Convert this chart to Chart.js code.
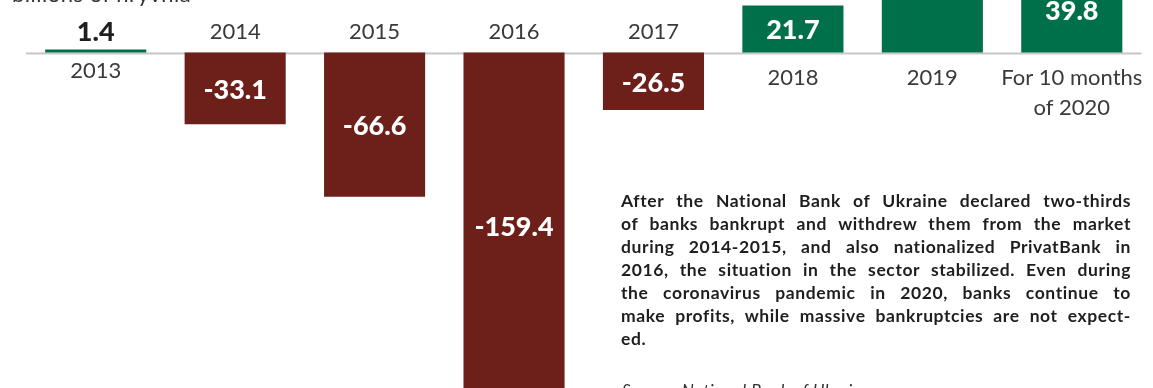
<!DOCTYPE html>
<html>
<head>
<meta charset="utf-8">
<script src="https://cdn.jsdelivr.net/npm/chart.js@4.4.1/dist/chart.umd.min.js"></script>
<style>
  html, body { margin: 0; padding: 0; background: #ffffff; }
  #wrap { position: relative; width: 1153px; height: 388px; overflow: hidden; background: #fff; }
  #c { position: absolute; left: 0; top: 0; }
  #title { position: absolute; left: 12px; top: -17px; font: 400 22px Lato, sans-serif; line-height: 22px; color: #333; white-space: nowrap; letter-spacing: 0.5px; }
  #note { position: absolute; left: 621px; top: 189px; width: 510px; font: 700 17.5px Lato, sans-serif; line-height: 23px; color: #1e1e1e; letter-spacing: 0.6px; }
  #note div { text-align: justify; text-align-last: justify; white-space: nowrap; }
  #note div.last { text-align-last: left; }
  #source { position: absolute; left: 622px; top: 379px; font: italic 400 17px Lato, sans-serif; line-height: 23px; color: #333; white-space: nowrap; letter-spacing: 0.5px; }
</style>
</head>
<body>
<div id="wrap">
  <canvas id="c" width="1153" height="388"></canvas>
  <div id="title">billions of hryvnia</div>
  <div id="note"></div>
  <div id="source">Source: National Bank of Ukraine</div>
</div>
<script>
const categories = ['2013', '2014', '2015', '2016', '2017', '2018', '2019', ['For 10 months', 'of 2020']];
const profits = [1.4, -33.1, -66.6, -159.4, -26.5, 21.7, 58.3, 39.8];
const yMin = -154.8;
const yMax = 24.2;
const noteLines = [
  'After the National Bank of Ukraine declared two-thirds',
  'of banks bankrupt and withdrew them from the market',
  'during 2014-2015, and also nationalized PrivatBank in',
  '2016, the situation in the sector stabilized. Even during',
  'the coronavirus pandemic in 2020, banks continue to',
  'make profits, while massive bankruptcies are not expect-',
  'ed.'
];

const GREEN = '#00704a';
const RED = '#6d1f1a';

const note = document.getElementById('note');
noteLines.forEach((t, i) => {
  const d = document.createElement('div');
  d.textContent = t;
  if (i === noteLines.length - 1) d.className = 'last';
  note.appendChild(d);
});

const labelPlugin = {
  id: 'labelPlugin',
  beforeDatasetsDraw(chart) {
    const ctx = chart.ctx;
    const area = chart.chartArea;
    const zeroY = chart.scales.y.getPixelForValue(0);
    ctx.save();
    ctx.fillStyle = '#c6c6c6';
    ctx.fillRect(area.left, zeroY, area.right - area.left, 2);
    ctx.restore();
  },
  afterDatasetsDraw(chart) {
    const ctx = chart.ctx;
    const zeroY = chart.scales.y.getPixelForValue(0);
    const meta = chart.getDatasetMeta(0);
    ctx.save();
    ctx.textAlign = 'center';
    ctx.textBaseline = 'alphabetic';
    meta.data.forEach((bar, i) => {
      const v = profits[i];
      const h = Math.abs(bar.base - bar.y);
      const small = h < 30;
      ctx.font = '900 27px Lato, sans-serif';
      const txt = v.toFixed(1);
      if (small) {
        ctx.fillStyle = '#1f1f1f';
        ctx.fillText(txt, bar.x, zeroY - 21 + 9.7);
      } else {
        ctx.fillStyle = '#ffffff';
        ctx.fillText(txt, bar.x, (bar.y + bar.base) / 2 + 10.5);
      }
      ctx.font = '400 22px Lato, sans-serif';
      ctx.fillStyle = '#3a3a3a';
      const cat = Array.isArray(categories[i]) ? categories[i] : [categories[i]];
      let cy;
      if (v < 0) cy = zeroY - 21.5;
      else if (small) cy = zeroY + 17.5;
      else cy = zeroY + 25;
      cat.forEach((line, k) => {
        ctx.fillText(line, bar.x, cy + k * 30 + 8);
      });
    });
    ctx.restore();
  }
};

new Chart(document.getElementById('c'), {
  type: 'bar',
  data: {
    labels: categories,
    datasets: [{
      data: profits,
      backgroundColor: profits.map(v => v >= 0 ? GREEN : RED),
      borderWidth: 0,
      barPercentage: 0.725,
      categoryPercentage: 1.0
    }]
  },
  options: {
    responsive: false,
    animation: false,
    devicePixelRatio: 1,
    layout: { padding: { left: 26, right: 11.5, top: 0, bottom: 0 } },
    plugins: { legend: { display: false }, tooltip: { enabled: false }, title: { display: false } },
    scales: {
      x: { display: false },
      y: { display: false, min: yMin, max: yMax }
    }
  },
  plugins: [labelPlugin]
});
</script>
</body>
</html>
